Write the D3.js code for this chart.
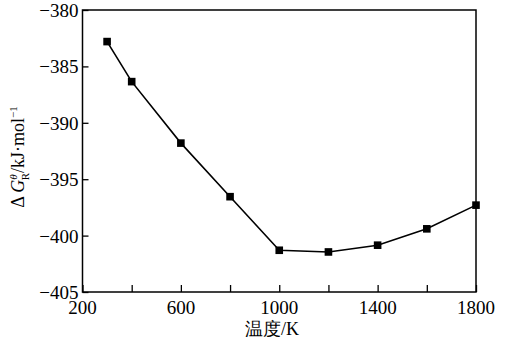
<!DOCTYPE html>
<html><head><meta charset="utf-8">
<script src="https://cdn.jsdelivr.net/npm/d3@7"></script>
<style>body{margin:0;background:#fff} text{font-family:"Liberation Serif","DejaVu Serif",serif}</style>
</head><body>
<svg id="c" width="508" height="339"></svg>
<script>
const temps = [300, 400, 600, 800, 1000, 1200, 1400, 1600, 1800];
const dG = [-382.8, -386.35, -391.8, -396.55, -401.3, -401.45, -400.85, -399.4, -397.3];
const xTicks = [200, 400, 600, 800, 1000, 1200, 1400, 1600, 1800];
const xLabels = [200, 600, 1000, 1400, 1800];
const yTicks = [-380, -385, -390, -395, -400, -405];

const m = {l: 82.5, t: 10, r: 476, b: 292};
const svg = d3.select("#c");
const x = d3.scaleLinear().domain([200, 1800]).range([m.l, m.r]);
const y = d3.scaleLinear().domain([-405, -380]).range([m.b, m.t]);

// inward ticks
const xa = svg.append("g").attr("transform", `translate(0,${m.b})`)
  .call(d3.axisBottom(x).tickValues(xTicks).tickSizeInner(-7).tickSizeOuter(0).tickFormat(""));
xa.select(".domain").remove();
const ya = svg.append("g").attr("transform", `translate(${m.l},0)`)
  .call(d3.axisLeft(y).tickValues(yTicks).tickSizeInner(-6).tickSizeOuter(0).tickFormat(""));
ya.select(".domain").remove();
svg.selectAll(".tick line").attr("stroke", "#000").attr("stroke-width", 1.3);

// frame
svg.append("rect").attr("x", m.l).attr("y", m.t).attr("width", m.r - m.l).attr("height", m.b - m.t)
  .attr("fill", "none").attr("stroke", "#000").attr("stroke-width", 1.5);

// tick labels
svg.append("g").selectAll("text").data(xLabels).join("text")
  .attr("x", d => x(d)).attr("y", m.b + 22).attr("text-anchor", "middle")
  .attr("font-size", 19).attr("fill", "#000").text(d => d);
svg.append("g").selectAll("text").data(yTicks).join("text")
  .attr("x", m.l - 4).attr("y", d => y(d) + 7).attr("text-anchor", "end")
  .attr("font-size", 19).attr("fill", "#000").text(d => "\u2212" + Math.abs(d));

// axis titles
svg.append("text").attr("x", 272).attr("y", 335).attr("text-anchor", "middle")
  .attr("font-size", 18).attr("fill", "#000").text("温度/K");

const yt = svg.append("text").attr("transform", "translate(24,157) rotate(-90)")
  .attr("text-anchor", "middle").attr("font-size", 18).attr("fill", "#000");
yt.append("tspan").text("Δ ");
yt.append("tspan").attr("font-style", "italic").text("G");
yt.append("tspan").attr("font-size", 11).attr("dy", -7).attr("font-style", "italic").text("θ");
yt.append("tspan").attr("font-size", 11).attr("dx", -6).attr("dy", 12).text("R");
yt.append("tspan").attr("dy", -5).text("/kJ·mol");
yt.append("tspan").attr("font-size", 11).attr("dy", -7).text("−1");

// line and markers
const pts = temps.map((t, i) => [t, dG[i]]);
svg.append("path").datum(pts)
  .attr("d", d3.line().x(d => x(d[0])).y(d => y(d[1])))
  .attr("fill", "none").attr("stroke", "#000").attr("stroke-width", 1.6);
svg.append("g").selectAll("rect").data(pts).join("rect")
  .attr("x", d => x(d[0]) - 3.8).attr("y", d => y(d[1]) - 3.8)
  .attr("width", 7.6).attr("height", 7.6).attr("fill", "#000");
</script>
</body></html>
